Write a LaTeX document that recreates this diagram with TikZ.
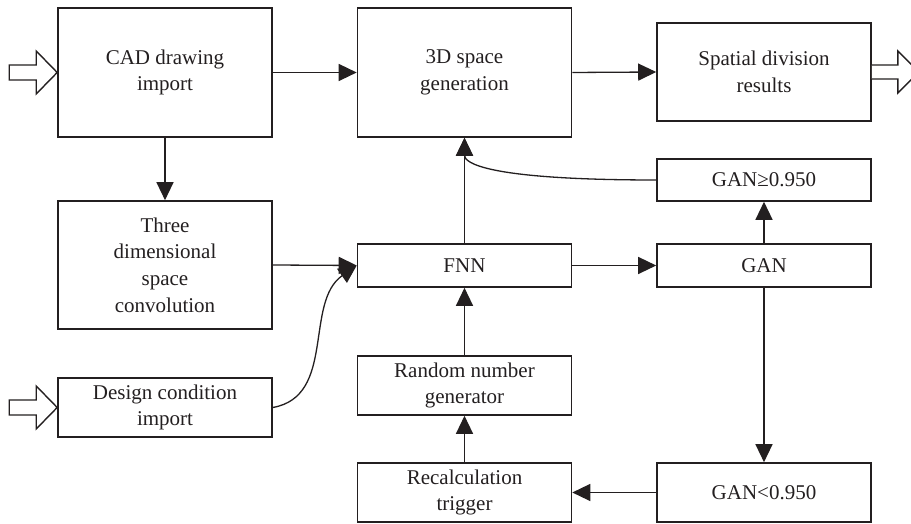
\documentclass[tikz,border=0pt]{standalone}
\usepackage{fontspec}
\setmainfont{Liberation Serif}
\usepackage{tikz}
\usetikzlibrary{arrows.meta}
\usetikzlibrary{calc}
\definecolor{linegray}{HTML}{231F20}

\begin{document}
\begin{tikzpicture}[x=0.5pt, y=0.5pt, >={Triangle[length=9pt, width=8.5pt]},
        line width=0.65pt, draw=linegray,
        box/.style={draw=linegray, line width=0.8pt, minimum width=107pt,
            inner sep=2pt, align=center, text=linegray,
            font=\fontsize{10.5}{13.3}\selectfont},
        hollow/.style={draw=linegray, fill=white, line width=0.7pt, line join=miter}]
        \useasboundingbox (0,0) rectangle (911,524);
        \node[box, minimum height=64.5pt] at (165,451.5) (cad) {CAD drawing\\import};
        \node[box, minimum height=64.5pt] at (464.5,451.5) (gen) {3D space\\generation};
        \node[box, minimum height=49pt] at (764,452) (res) {Spatial division\\results};
        \node[box, minimum height=21pt] at (764,344) (gege) {GAN≥0.950};
        \node[box, minimum height=64pt] at (165,259) (conv) {Three\\dimensional\\space\\convolution};
        \node[box, minimum height=21.5pt] at (464.5,258.5) (fnn) {FNN};
        \node[box, minimum height=21.5pt] at (764,258.5) (gan) {GAN};
        \node[box, minimum height=29.5pt] at (165,116.5) (cond) {Design condition\\import};
        \node[box, minimum height=29.5pt] at (464.5,138.5) (rng) {Random number\\generator};
        \node[box, minimum height=29.5pt] at (464.5,31.5) (trig) {Recalculation\\trigger};
        \node[box, minimum height=29.5pt] at (764,31.5) (ganlt) {GAN<0.950};
        \draw[hollow] (cad.west) -- ++(-21,21.5) -- ++(0,-14) -- ++(-27,0) -- ++(0,-15) -- ++(27,0) -- ++(0,-14) -- cycle;
        \draw[hollow] (cond.west) -- ++(-21,21.5) -- ++(0,-14) -- ++(-27,0) -- ++(0,-15) -- ++(27,0) -- ++(0,-14) -- cycle;
        \draw[hollow] ($(res.east)+(0,7)$) -- ++(26,0) -- ++(0,14) -- ++(21,-21) -- ++(-21,-21) -- ++(0,14) -- ++(-26,0);
        \draw[->] (cad.east) -- (gen.west);
        \draw[->] (gen.east) -- (res.west);
        \draw[->] (cad.south) -- (conv.north);
        \draw[->] (conv.east) -- (fnn.west);
        \draw[->] (cond.east) to[out=10, in=215] (fnn.west);
        \draw[->] (fnn.north) -- (gen.south);
        \draw[->] (gege.west) .. controls +(-170,0) and +(0,-25) .. (gen.south);
        \draw[->] (fnn.east) -- (gan.west);
        \draw[->] (gan.north) -- (gege.south);
        \draw[->] (gan.south) -- (ganlt.north);
        \draw[->] (ganlt.west) -- (trig.east);
        \draw[->] (trig.north) -- (rng.south);
        \draw[->] (rng.north) -- (fnn.south);
    \end{tikzpicture}
\end{document}
